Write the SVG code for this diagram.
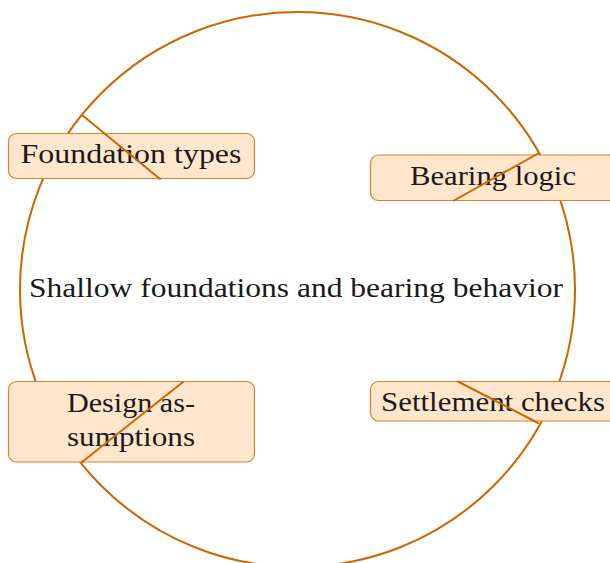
<svg xmlns="http://www.w3.org/2000/svg" width="610" height="563" viewBox="0 0 610 563">
<style>
.bg{fill:#ffffff}
.ring{fill:none;stroke:#cc6600;stroke-width:2}
.box{fill:#ffe6cc;stroke:#d9822b;stroke-width:1.2}
.lbl{font-family:"Liberation Serif","Times New Roman",serif;font-size:28px;fill:#1a1a1a;text-anchor:middle}
.conn line{stroke:#cc6600;stroke-width:2;stroke-linecap:round}
</style>
<rect class="bg" x="0" y="0" width="610" height="563"/>
<g id="ring">
<circle class="ring" cx="297.5" cy="289.5" r="277.5"/>
</g>
<g id="center">
<text class="lbl" x="296" y="297" textLength="534" lengthAdjust="spacingAndGlyphs">Shallow foundations and bearing behavior</text>
</g>
<g id="foundation-types">
<rect class="box" x="8.5" y="133.5" width="246" height="45" rx="8"/>
<text class="lbl" x="131" y="163" textLength="221" lengthAdjust="spacingAndGlyphs">Foundation types</text>
</g>
<g id="bearing-logic">
<rect class="box" x="370.5" y="155" width="246" height="45.5" rx="8"/>
<text class="lbl" x="493" y="185" textLength="166" lengthAdjust="spacingAndGlyphs">Bearing logic</text>
</g>
<g id="design-assumptions">
<rect class="box" x="8.5" y="381.5" width="246" height="80.5" rx="8"/>
<text class="lbl" x="131" y="411.5" textLength="128" lengthAdjust="spacingAndGlyphs">Design as-</text>
<text class="lbl" x="131" y="446" textLength="128" lengthAdjust="spacingAndGlyphs">sumptions</text>
</g>
<g id="settlement-checks">
<rect class="box" x="370.5" y="381.5" width="246" height="39.5" rx="8"/>
<text class="lbl" x="493" y="411" textLength="224" lengthAdjust="spacingAndGlyphs">Settlement checks</text>
</g>
<g id="connectors" class="conn">
<line x1="82" y1="115" x2="160" y2="179"/>
<line x1="539" y1="153" x2="454" y2="200.5"/>
<line x1="183" y1="382" x2="82" y2="462"/>
<line x1="458" y1="381.5" x2="538" y2="423"/>
</g>
</svg>
